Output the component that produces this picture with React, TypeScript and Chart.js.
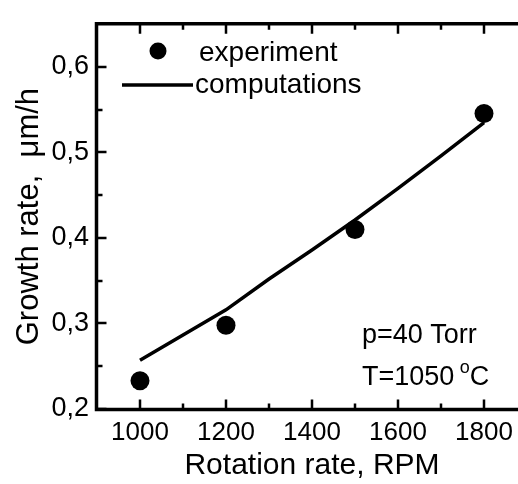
import { useEffect, useRef } from "react";
import { Chart, registerables } from "chart.js";

Chart.register(...registerables);

// ---- data ----
const expRpm = [1000, 1200, 1500, 1800];
const expRate = [0.233, 0.298, 0.41, 0.5455];
const compRpm = [1000, 1200, 1300, 1400, 1500, 1600, 1700, 1800];
const compRate = [0.257, 0.316, 0.352, 0.386, 0.421, 0.458, 0.496, 0.535];
const xTicks = [1000, 1200, 1400, 1600, 1800];
const xMinorTicks = [1100, 1300, 1500, 1700, 1900];
const yTicks = [0.2, 0.3, 0.4, 0.5, 0.6];
const yMinorTicks = [0.25, 0.35, 0.45, 0.55];
const seriesNames = ["experiment", "computations"];
const xTitle = "Rotation rate, RPM";
const yTitle = "Growth rate,  \u03bcm/h";
const noteP = "p=40 Torr";
const noteTPrefix = "T=1050 ";
const noteTDegree = "o";
const noteTUnit = "C";

const FONT = "'Liberation Sans', Arial, Helvetica, sans-serif";

const decorPlugin = {
  id: "decor",
  afterDraw(chart: any) {
    const { ctx, chartArea: a, scales } = chart;
    const x = scales.x;
    const y = scales.y;
    ctx.save();
    ctx.strokeStyle = "#000";
    ctx.fillStyle = "#000";

    // frame (left, bottom, top)
    const L = a.left - 0.5;
    const T = a.top - 0.5;
    const B = a.bottom + 0.5;
    ctx.lineWidth = 3.5;
    ctx.lineCap = "square";
    ctx.beginPath();
    ctx.moveTo(a.right + 5, T);
    ctx.lineTo(L, T);
    ctx.lineTo(L, B);
    ctx.lineTo(a.right + 5, B);
    ctx.stroke();

    // inward ticks
    ctx.lineWidth = 2.5;
    ctx.lineCap = "butt";
    ctx.beginPath();
    const xt = (vals: number[], len: number) => {
      for (const v of vals) {
        const px = Math.round(x.getPixelForValue(v));
        ctx.moveTo(px, B);
        ctx.lineTo(px, B - len);
        ctx.moveTo(px, T);
        ctx.lineTo(px, T + len);
      }
    };
    const yt = (vals: number[], len: number) => {
      for (const v of vals) {
        const py = Math.round(y.getPixelForValue(v));
        ctx.moveTo(L, py);
        ctx.lineTo(L + len, py);
      }
    };
    xt(xTicks, 10);
    xt(xMinorTicks, 6);
    yt(yTicks, 10);
    yt(yMinorTicks, 6);
    ctx.stroke();

    // legend
    const ds = chart.data.datasets;
    ctx.font = `28px ${FONT}`;
    ctx.textBaseline = "alphabetic";
    ctx.textAlign = "left";
    ctx.beginPath();
    ctx.arc(158, 51, 8.5, 0, Math.PI * 2);
    ctx.fill();
    ctx.fillText(ds[0].label, 199, 61);
    ctx.lineWidth = 3.5;
    ctx.beginPath();
    ctx.moveTo(122, 85);
    ctx.lineTo(193, 85);
    ctx.stroke();
    ctx.fillText(ds[1].label, 195, 93);

    // annotation
    ctx.font = `27px ${FONT}`;
    ctx.fillText(noteP, 362, 343);
    ctx.fillText(noteTPrefix, 362, 385);
    const w1 = ctx.measureText(noteTPrefix).width;
    ctx.font = `18px ${FONT}`;
    ctx.fillText(noteTDegree, 362 + w1 - 2, 373);
    const w2 = ctx.measureText(noteTDegree).width;
    ctx.font = `27px ${FONT}`;
    ctx.fillText(noteTUnit, 362 + w1 - 2 + w2, 385);

    ctx.restore();
  },
};

export default function App() {
  const ref = useRef<HTMLCanvasElement | null>(null);

  useEffect(() => {
    if (!ref.current) return;
    Chart.defaults.font.family = FONT;
    Chart.defaults.color = "#000";
    const chart = new Chart(ref.current, {
      type: "scatter",
      data: {
        datasets: [
          {
            label: seriesNames[0],
            data: expRpm.map((v, i) => ({ x: v, y: expRate[i] })),
            showLine: false,
            pointRadius: 9.5,
            pointBackgroundColor: "#000",
            pointBorderWidth: 0,
            borderColor: "#000",
            backgroundColor: "#000",
            order: 1,
          },
          {
            label: seriesNames[1],
            data: compRpm.map((v, i) => ({ x: v, y: compRate[i] })),
            showLine: true,
            pointRadius: 0,
            borderWidth: 3.5,
            borderColor: "#000",
            backgroundColor: "#000",
            tension: 0,
            order: 2,
          },
        ],
      },
      options: {
        animation: false,
        responsive: false,
        devicePixelRatio: 1,
        layout: { padding: { left: 0, top: 14, right: 13, bottom: 0 } },
        plugins: { legend: { display: false }, tooltip: { enabled: false } },
        scales: {
          x: {
            type: "linear",
            min: 900,
            max: 1900,
            afterBuildTicks: (s: any) => {
              s.ticks = xTicks.map((v) => ({ value: v }));
            },
            afterFit: (s: any) => {
              s.height = 75;
            },
            grid: { display: false, drawTicks: false },
            border: { display: false },
            ticks: {
              font: { size: 26 },
              padding: 8,
              maxRotation: 0,
              autoSkip: false,
              callback: (v: any) => String(v),
            },
            title: {
              display: true,
              text: xTitle,
              font: { size: 30 },
              padding: { top: 0, bottom: 0 },
            },
          },
          y: {
            type: "linear",
            min: 0.2,
            max: 0.65,
            afterBuildTicks: (s: any) => {
              s.ticks = yTicks.map((v) => ({ value: v }));
            },
            afterFit: (s: any) => {
              s.width = 97;
            },
            grid: { display: false, drawTicks: false },
            border: { display: false },
            ticks: {
              font: { size: 27 },
              padding: 8,
              autoSkip: false,
              callback: (v: any) => Number(v).toFixed(1).replace(".", ","),
            },
            title: {
              display: true,
              text: yTitle,
              font: { size: 31 },
              padding: { top: 11, bottom: 0 },
            },
          },
        },
      },
      plugins: [decorPlugin],
    });
    return () => chart.destroy();
  }, []);

  return (
    <div
      style={{
        position: "fixed",
        left: 0,
        top: 0,
        width: 518,
        height: 484,
        overflow: "hidden",
        background: "#fff",
      }}
    >
      <canvas ref={ref} width={540} height={484} style={{ width: 540, height: 484, display: "block" }} />
    </div>
  );
}
